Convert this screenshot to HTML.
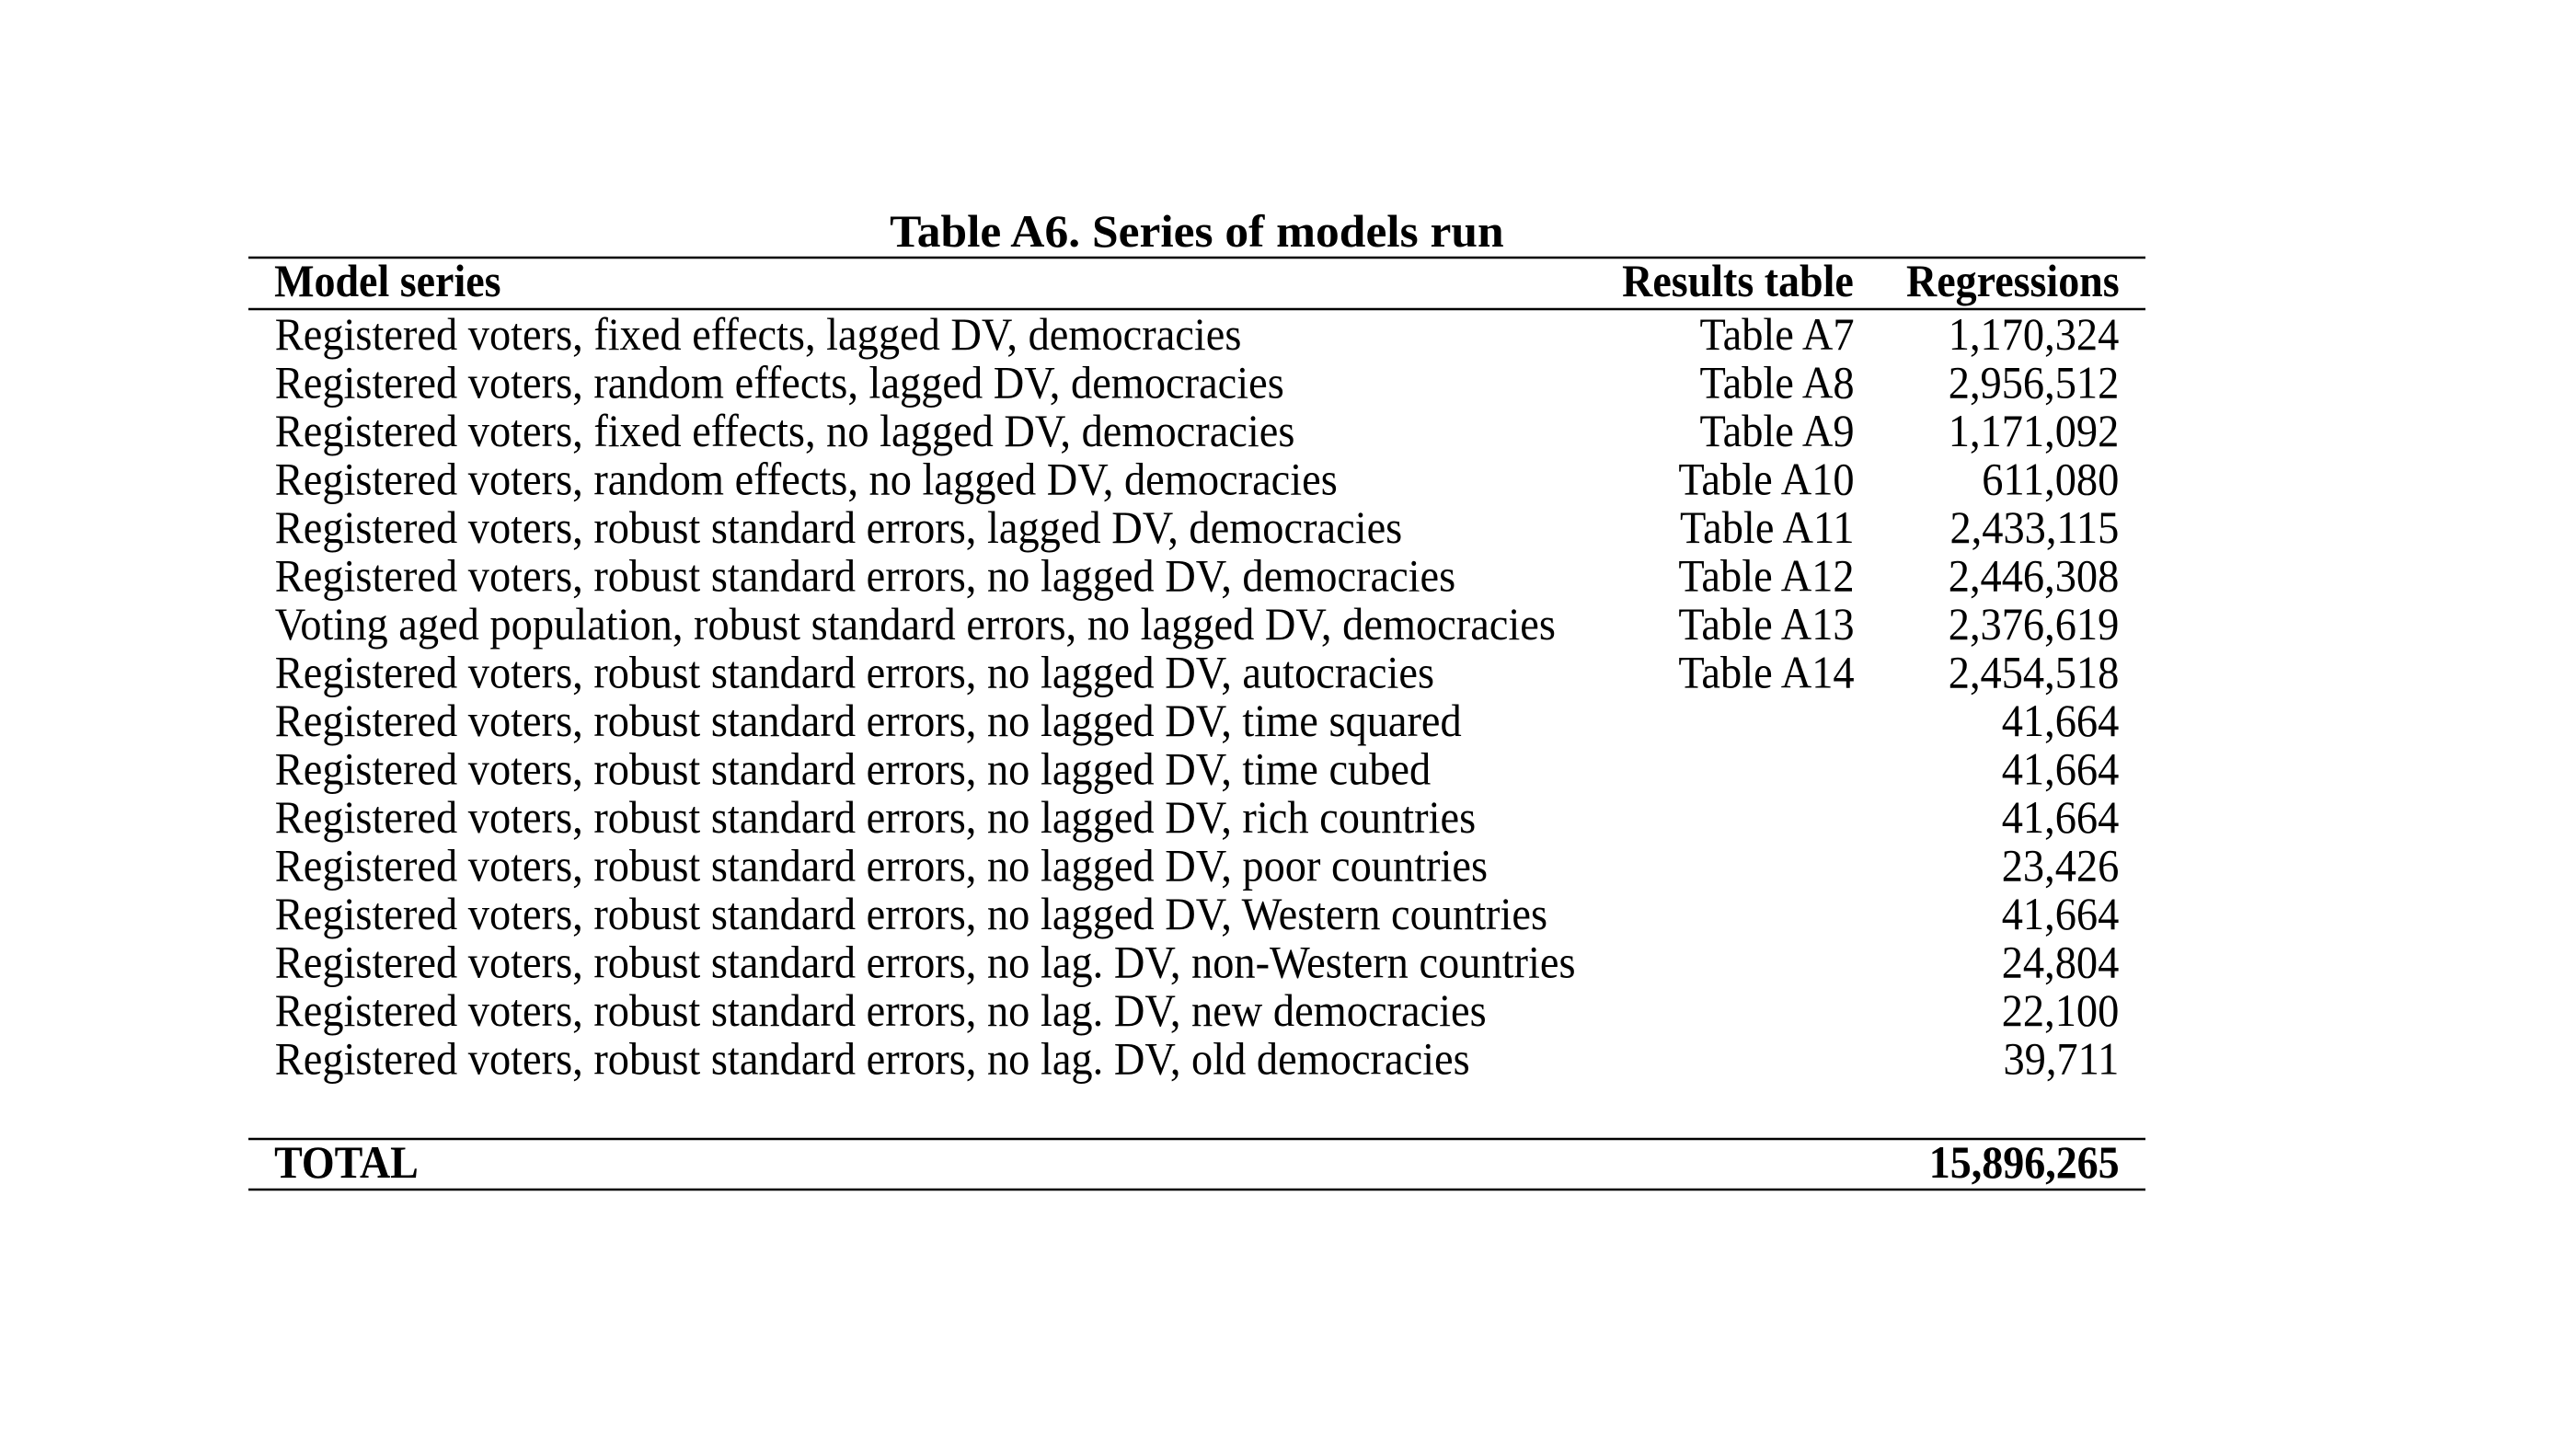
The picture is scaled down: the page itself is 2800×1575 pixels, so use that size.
<!DOCTYPE html>
<html><head><meta charset="utf-8"><style>
html,body{margin:0;padding:0;background:#fff;}
svg{display:block;}
text{font-family:"Liberation Serif","Times New Roman",serif;font-size:50px;fill:#000;}
.b{font-weight:bold;}
</style></head><body>
<svg width="2800" height="1575" viewBox="0 0 2800 1575" xmlns="http://www.w3.org/2000/svg">
<rect width="2800" height="1575" fill="#fff"/>
<g stroke="#000" stroke-width="2.5">
<line x1="270" y1="280" x2="2332" y2="280"/>
<line x1="270" y1="336" x2="2332" y2="336"/>
<line x1="270" y1="1238" x2="2332" y2="1238"/>
<line x1="270" y1="1293" x2="2332" y2="1293"/>
</g>
<g transform="scale(1.03,1)">
<text class="b" x="1263" y="268" text-anchor="middle">Table A6. Series of models run</text>
</g>
<g transform="scale(0.92,1)">
<text class="b" x="324" y="322">Model series</text>
<text class="b" x="2190" y="322" text-anchor="end">Results table</text>
<text class="b" x="2504" y="322" text-anchor="end">Regressions</text>
<text class="b" x="324" y="1280">TOTAL</text>
<text class="b" x="2504" y="1280" text-anchor="end">15,896,265</text>
</g>
<g transform="scale(0.928,1)">
<g>
<text x="322" y="380">Registered voters, fixed effects, lagged DV, democracies</text>
<text x="322" y="432.5">Registered voters, random effects, lagged DV, democracies</text>
<text x="322" y="485">Registered voters, fixed effects, no lagged DV, democracies</text>
<text x="322" y="537.5">Registered voters, random effects, no lagged DV, democracies</text>
<text x="322" y="590">Registered voters, robust standard errors, lagged DV, democracies</text>
<text x="322" y="642.5">Registered voters, robust standard errors, no lagged DV, democracies</text>
<text x="322" y="695">Voting aged population, robust standard errors, no lagged DV, democracies</text>
<text x="322" y="747.5">Registered voters, robust standard errors, no lagged DV, autocracies</text>
<text x="322" y="800">Registered voters, robust standard errors, no lagged DV, time squared</text>
<text x="322" y="852.5">Registered voters, robust standard errors, no lagged DV, time cubed</text>
<text x="322" y="905">Registered voters, robust standard errors, no lagged DV, rich countries</text>
<text x="322" y="957.5">Registered voters, robust standard errors, no lagged DV, poor countries</text>
<text x="322" y="1010">Registered voters, robust standard errors, no lagged DV, Western countries</text>
<text x="322" y="1062.5">Registered voters, robust standard errors, no lag. DV, non-Western countries</text>
<text x="322" y="1115">Registered voters, robust standard errors, no lag. DV, new democracies</text>
<text x="322" y="1167.5">Registered voters, robust standard errors, no lag. DV, old democracies</text>
</g>
<g text-anchor="end">
<text x="2172" y="380">Table A7</text>
<text x="2172" y="432.5">Table A8</text>
<text x="2172" y="485">Table A9</text>
<text x="2172" y="537.5">Table A10</text>
<text x="2172" y="590">Table A11</text>
<text x="2172" y="642.5">Table A12</text>
<text x="2172" y="695">Table A13</text>
<text x="2172" y="747.5">Table A14</text>
</g>
<g text-anchor="end">
<text x="2482" y="380">1,170,324</text>
<text x="2482" y="432.5">2,956,512</text>
<text x="2482" y="485">1,171,092</text>
<text x="2482" y="537.5">611,080</text>
<text x="2482" y="590">2,433,115</text>
<text x="2482" y="642.5">2,446,308</text>
<text x="2482" y="695">2,376,619</text>
<text x="2482" y="747.5">2,454,518</text>
<text x="2482" y="800">41,664</text>
<text x="2482" y="852.5">41,664</text>
<text x="2482" y="905">41,664</text>
<text x="2482" y="957.5">23,426</text>
<text x="2482" y="1010">41,664</text>
<text x="2482" y="1062.5">24,804</text>
<text x="2482" y="1115">22,100</text>
<text x="2482" y="1167.5">39,711</text>
</g>
</g>
</svg>
</body></html>
